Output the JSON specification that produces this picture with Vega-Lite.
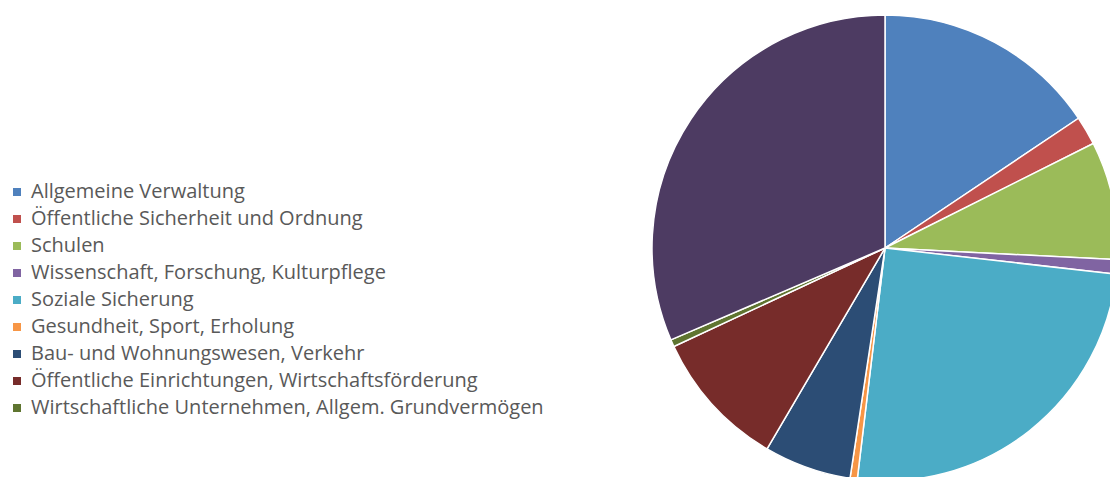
{
  "$schema": "https://vega.github.io/schema/vega-lite/v6.json",
  "width": 450,
  "height": 458,
  "autosize": {"type": "none"},
  "padding": {"left": 660, "top": 19, "right": 0, "bottom": 0},
  "background": "white",
  "config": {"view": {"stroke": null}},
  "data": {
    "values": [
      {"i": 1, "bereich": "Allgemeine Verwaltung", "anteil": 15.6},
      {"i": 2, "bereich": "Öffentliche Sicherheit und Ordnung", "anteil": 2.0},
      {"i": 3, "bereich": "Schulen", "anteil": 8.2},
      {"i": 4, "bereich": "Wissenschaft, Forschung, Kulturpflege", "anteil": 1.0},
      {"i": 5, "bereich": "Soziale Sicherung", "anteil": 25.1},
      {"i": 6, "bereich": "Gesundheit, Sport, Erholung", "anteil": 0.5},
      {"i": 7, "bereich": "Bau- und Wohnungswesen, Verkehr", "anteil": 6.05},
      {"i": 8, "bereich": "Öffentliche Einrichtungen, Wirtschaftsförderung", "anteil": 9.6},
      {"i": 9, "bereich": "Wirtschaftliche Unternehmen, Allgem. Grundvermögen", "anteil": 0.5},
      {"i": 10, "bereich": "Allgemeine Finanzwirtschaft", "anteil": 31.45}
    ]
  },
  "mark": {"type": "arc", "radius": 233, "stroke": "white", "strokeWidth": 1.5},
  "encoding": {
    "theta": {"field": "anteil", "type": "quantitative", "stack": true},
    "order": {"field": "i", "type": "quantitative"},
    "color": {
      "field": "bereich",
      "type": "nominal",
      "scale": {
        "domain": ["Allgemeine Verwaltung", "Öffentliche Sicherheit und Ordnung", "Schulen", "Wissenschaft, Forschung, Kulturpflege", "Soziale Sicherung", "Gesundheit, Sport, Erholung", "Bau- und Wohnungswesen, Verkehr", "Öffentliche Einrichtungen, Wirtschaftsförderung", "Wirtschaftliche Unternehmen, Allgem. Grundvermögen", "Allgemeine Finanzwirtschaft"],
        "range": ["#4F81BD", "#C0504D", "#9BBB59", "#8064A2", "#4BACC6", "#F79646", "#2C4D75", "#772C2A", "#5F7530", "#4D3B62"]
      },
      "legend": {
        "title": null,
        "orient": "none",
        "legendX": -653,
        "legendY": 163,
        "values": ["Allgemeine Verwaltung", "Öffentliche Sicherheit und Ordnung", "Schulen", "Wissenschaft, Forschung, Kulturpflege", "Soziale Sicherung", "Gesundheit, Sport, Erholung", "Bau- und Wohnungswesen, Verkehr", "Öffentliche Einrichtungen, Wirtschaftsförderung", "Wirtschaftliche Unternehmen, Allgem. Grundvermögen"],
        "symbolType": "square",
        "symbolSize": 64,
        "symbolStrokeWidth": 0,
        "labelFont": "Open Sans",
        "labelFontSize": 20,
        "labelColor": "#595959",
        "labelLimit": 800,
        "labelOffset": 4,
        "rowPadding": 7
      }
    }
  }
}
